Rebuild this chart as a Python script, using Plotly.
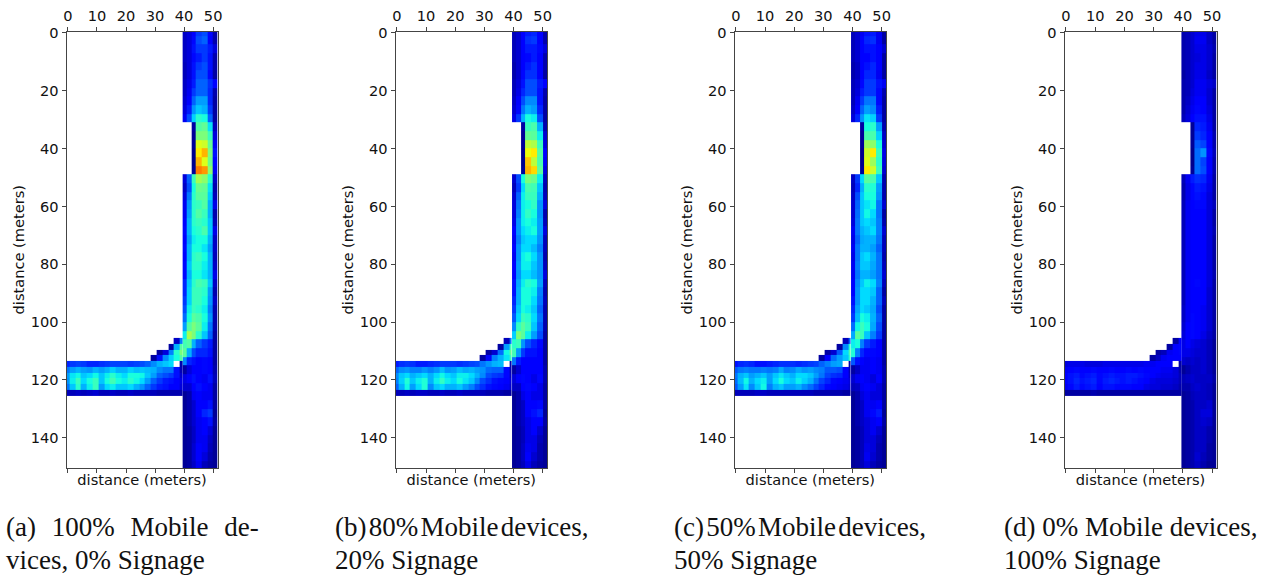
import plotly.graph_objects as go

N = None
x_edges_v = [39.5, 41, 42.5, 44, 46, 48, 50, 51.5]
y_edges_v = [-2 + 3 * k for k in range(52)]
x_edges_h = [-1.5 + 2 * k for k in range(21)] + [39.5]
y_edges_h = [105.5 + 2 * k for k in range(11)]
x_ticks = [0, 10, 20, 30, 40, 50]
y_ticks = [0, 20, 40, 60, 80, 100, 120, 140]
axis_title = "distance (meters)"

vert_a = [
[6,8,12,18,20,13,4],[6,8,13,20,22,12,4],[6,8,14,18,18,15,8],[6,8,13,15,18,14,4],
[5,8,14,18,20,14,4],[5,8,14,20,20,13,3],[6,9,15,22,22,17,12],[6,10,18,22,22,16,4],
[7,12,22,28,28,16,3],[8,15,27,32,30,18,3],[10,20,33,40,38,22,3],
[N,N,3,45,47,35,5],[N,N,2,50,50,42,8],[N,N,2,62,60,47,10],[N,N,1,66,72,50,14],[N,N,1,72,62,48,12],[N,N,2,78,75,52,10],
[8,22,42,55,52,40,6],[6,20,38,48,47,35,4],[8,24,40,46,46,33,5],[10,27,40,42,45,30,9],[10,28,40,45,42,30,4],
[11,30,40,42,40,32,5],[13,30,38,40,44,32,9],[12,28,36,38,38,30,6],[13,30,38,38,35,28,6],[12,30,40,42,38,30,5],
[13,32,40,40,36,30,6],[13,30,38,38,35,30,9],[16,32,40,44,42,32,6],[16,33,42,42,40,28,4],[18,33,42,42,38,27,6],
[20,36,42,40,36,25,4],[23,38,46,44,38,27,4],[28,45,50,46,36,24,4],[36,55,50,40,32,22,3],[43,45,30,22,18,15,3],
[46,30,20,16,16,14,3],[26,16,14,12,13,12,3],[3,8,12,12,13,12,4],[9,12,14,12,10,14,5],[7,7,12,14,12,10,3],
[2,4,10,12,10,10,3],[2,4,7,12,12,14,3],[2,4,7,12,16,18,2],[2,4,7,10,12,14,3],[2,3,6,10,12,8,2],
[2,3,6,10,10,6,2],[2,3,7,11,10,5,2],[2,3,7,12,8,4,2],[2,3,6,10,5,3,2],
]
vert_b = [
[5,7,11,15,16,11,4],[5,7,12,17,18,11,4],[5,7,12,15,15,13,8],[5,7,12,13,15,12,4],
[4,7,12,15,17,12,4],[4,7,13,17,17,11,3],[5,8,14,20,20,15,11],[5,9,16,20,20,14,4],
[6,11,20,26,26,14,3],[7,13,24,30,28,16,3],[9,18,30,38,36,20,3],
[N,N,3,42,44,30,4],[N,N,2,47,46,36,7],[N,N,2,58,56,42,8],[N,N,1,64,66,45,11],[N,N,1,70,58,44,10],[N,N,2,72,68,46,8],
[7,20,38,50,48,36,5],[5,18,34,44,43,32,4],[7,22,36,42,42,30,5],[8,24,36,38,41,27,8],[8,25,36,41,38,27,4],
[9,27,36,38,36,28,5],[11,27,34,36,38,28,8],[10,25,32,34,34,27,5],[11,27,34,34,31,25,5],[10,27,36,38,34,27,4],
[11,28,36,36,32,27,5],[11,27,34,34,31,27,8],[14,29,36,40,38,28,5],[14,30,38,38,36,25,4],[16,30,38,38,34,24,5],
[18,32,38,36,32,22,4],[21,34,42,40,34,24,4],[26,41,46,42,32,22,4],[33,50,46,36,28,20,3],[40,42,27,20,16,13,3],
[43,28,18,14,14,12,3],[24,15,12,11,12,11,3],[3,7,11,11,12,11,4],[8,11,13,11,9,13,4],[6,6,11,13,11,9,3],
[2,4,9,11,9,9,3],[2,4,6,11,11,13,3],[2,4,6,11,14,16,2],[2,4,6,9,11,12,3],[2,3,5,9,11,7,2],
[2,3,5,9,9,5,2],[2,3,6,10,9,4,2],[2,3,6,11,7,4,2],[2,3,5,9,5,3,2],
]
vert_c = [
[5,7,10,14,15,10,3],[5,7,11,16,17,10,3],[5,7,12,14,14,12,7],[5,7,11,12,14,11,3],
[4,6,12,14,16,11,3],[4,6,12,16,16,10,3],[5,7,13,18,18,14,10],[5,8,15,18,18,13,4],
[5,10,18,24,24,13,3],[6,12,22,28,26,15,3],[8,16,27,35,33,18,3],
[N,N,3,38,40,28,4],[N,N,2,44,44,33,6],[N,N,2,54,52,38,7],[N,N,1,60,66,42,9],[N,N,1,62,54,40,8],[N,N,2,66,60,42,7],
[6,18,34,46,44,32,4],[5,16,30,40,39,28,4],[6,20,32,38,38,27,4],[7,22,32,35,37,24,7],[7,23,32,37,34,24,3],
[8,24,32,34,32,25,4],[10,24,30,32,34,25,7],[9,22,29,30,30,24,5],[10,24,30,30,28,22,5],[9,24,32,34,30,24,4],
[10,25,32,32,29,24,5],[10,24,30,30,28,24,7],[12,26,32,36,34,25,5],[12,27,34,34,32,22,3],[14,27,34,34,30,22,5],
[16,29,34,32,29,20,3],[18,31,38,36,30,22,3],[23,37,42,38,29,20,3],[29,46,42,32,25,18,3],[36,38,25,18,15,12,3],
[39,25,16,13,13,11,3],[21,14,11,10,11,10,3],[3,6,10,10,11,10,4],[7,10,12,10,8,12,4],[5,6,10,12,10,8,3],
[2,4,8,10,8,8,3],[2,4,6,10,10,12,3],[2,4,6,10,13,15,2],[2,4,6,8,10,11,3],[2,3,5,8,10,7,2],
[2,3,5,8,8,5,2],[2,3,5,9,8,4,2],[2,3,5,10,7,4,2],[2,3,5,8,5,3,2],
]
vert_d = [
[4,5,7,9,9,6,3],[4,5,7,10,10,6,3],[4,5,7,9,9,7,4],[4,5,7,8,9,7,3],
[4,5,7,9,9,7,3],[3,5,7,9,9,6,3],[4,5,7,10,10,8,6],[4,5,8,10,10,7,3],
[4,6,9,11,11,7,3],[4,7,10,13,12,8,3],[5,8,11,14,14,9,3],
[N,N,2,16,15,10,3],[N,N,2,18,16,11,4],[N,N,2,21,19,12,4],[N,N,1,23,27,13,5],[N,N,1,23,19,12,4],[N,N,2,23,20,12,4],
[5,10,15,17,16,10,3],[4,9,13,15,14,9,3],[4,9,13,14,13,8,3],[5,10,12,13,13,8,5],[5,10,12,12,12,8,3],
[5,10,12,12,12,8,3],[5,10,12,12,12,8,4],[5,10,12,12,11,8,3],[5,10,12,12,11,8,3],[5,10,12,12,11,8,3],
[5,10,12,12,11,8,3],[5,10,12,12,11,8,4],[5,10,12,13,12,8,3],[5,10,12,12,11,7,3],[5,10,12,12,11,7,3],
[6,10,12,12,10,7,3],[6,10,13,12,10,7,3],[7,11,13,12,10,7,3],[8,12,13,11,9,6,3],[9,11,9,8,7,5,2],
[9,9,8,7,7,5,2],[7,6,7,6,7,5,2],[2,4,6,6,7,5,2],[5,6,7,6,6,6,3],[4,4,6,7,6,5,2],
[2,3,5,6,6,5,2],[2,3,4,6,6,7,2],[2,3,4,6,8,8,2],[2,3,4,6,7,6,2],[2,3,4,6,6,4,2],
[2,3,4,6,6,4,2],[2,3,4,6,6,3,2],[2,3,4,7,5,3,2],[2,3,4,6,4,2,2],
]

def blank(n):
    return [N] * n

horiz_a = [
blank(19) + [6, 25],
blank(18) + [3, 30, 45],
blank(16) + [3, 8, 25, 40, 50],
blank(15) + [3, 14, 26, 33, 38, 45],
[16,18,19,18,16,16,17,18,19,19,19,18,19,20,22,26,30,32,34,N,4],
[24,28,30,28,27,30,28,30,33,30,30,33,31,32,31,30,26,24,24,14,5],
[28,35,37,32,34,37,32,36,40,36,34,38,38,37,32,28,22,20,18,14,7],
[27,36,42,34,38,42,32,38,43,38,36,40,37,34,28,22,18,15,14,12,9],
[24,32,40,30,36,42,28,34,36,32,32,34,30,27,22,18,15,14,12,11,8],
[5,5,6,5,6,7,5,5,6,5,5,6,5,5,5,5,4,4,4,4,4],
]
horiz_b = [
blank(19) + [5, 24],
blank(18) + [3, 28, 42],
blank(16) + [3, 7, 23, 37, 47],
blank(15) + [3, 13, 25, 30, 35, 42],
[15,17,18,17,15,15,16,17,18,18,18,17,18,19,20,24,27,30,31,N,4],
[22,26,27,25,25,27,25,27,31,27,28,31,29,30,28,27,23,22,22,13,5],
[26,32,34,30,32,34,30,34,37,34,32,36,36,34,30,26,20,18,17,13,6],
[25,33,39,32,36,39,30,36,41,36,34,38,35,32,26,20,17,14,13,11,8],
[22,30,37,28,34,39,26,32,34,30,30,32,28,25,20,17,14,13,11,10,7],
[5,5,6,5,6,6,5,5,6,5,5,6,5,5,5,5,4,4,4,3,3],
]
horiz_c = [
blank(19) + [5, 22],
blank(18) + [3, 26, 40],
blank(16) + [3, 7, 21, 34, 44],
blank(15) + [3, 12, 23, 28, 32, 40],
[14,16,17,16,14,14,15,16,17,17,17,16,17,18,19,22,25,28,29,N,4],
[21,24,25,24,24,25,24,25,29,25,26,29,27,28,26,25,21,21,20,12,5],
[24,30,32,28,30,32,28,32,35,32,30,34,34,32,28,24,19,17,16,12,6],
[23,31,37,30,34,36,28,34,38,34,32,36,33,30,24,19,16,13,12,10,8],
[21,28,35,26,32,37,25,30,32,28,28,30,26,23,19,16,13,12,10,9,7],
[5,5,5,5,6,6,5,5,5,5,5,5,5,5,4,4,4,4,4,3,3],
]
horiz_d = [
blank(19) + [3, 11],
blank(18) + [3, 11, 13],
blank(16) + [3, 5, 10, 12, 13],
blank(15) + [3, 6, 10, 11, 12, 12],
[8,9,9,9,8,8,8,9,9,9,9,9,9,9,10,10,11,11,12,N,3],
[10,12,13,12,12,13,12,12,13,12,12,13,12,13,12,12,11,10,10,8,4],
[12,14,15,13,14,15,13,14,15,14,14,15,15,14,13,12,10,9,9,8,5],
[11,14,16,14,15,16,13,15,16,15,14,15,14,13,12,9,8,8,8,7,5],
[10,13,15,13,14,15,12,14,14,13,13,13,12,11,9,8,8,7,7,6,4],
[3,3,3,3,3,4,3,3,3,3,3,3,3,3,3,3,3,3,3,3,3],
]

captions_1 = ["(a)\u00a0\u00a0\u200a100%\u00a0\u00a0\u200aMobile\u00a0\u00a0\u200ade-",
              "(b)\u200a80%\u200aMobile\u200adevices,",
              "(c)\u200a50%\u200aMobile\u200adevices,", "(d) 0% Mobile devices,"]
captions_2 = ["vices, 0% Signage", "20% Signage", "50% Signage", "100% Signage"]

jet = [
    [0, "rgb(0,0,128)"], [0.11, "rgb(0,0,255)"], [0.125, "rgb(0,0,255)"],
    [0.34, "rgb(0,219,255)"], [0.375, "rgb(20,255,226)"], [0.64, "rgb(238,255,8)"],
    [0.66, "rgb(255,236,0)"], [0.89, "rgb(255,20,0)"], [0.91, "rgb(232,0,0)"], [1, "rgb(128,0,0)"],
]

W, H = 1267, 577
lefts = [66.5, 395.5, 734.5, 1064.5]
rights = [217.5, 547, 886, 1216.5]
caption_x = [4, 333, 672, 1002]
top_px, bottom_px = 31.5, 468
FONT = "DejaVu Sans"
LINE = "#444444"
TS = 14.6

fig = go.Figure()
layout = {}
annotations = []
for i, (v, h) in enumerate(zip([vert_a, vert_b, vert_c, vert_d], [horiz_a, horiz_b, horiz_c, horiz_d])):
    top_x = f"x{i*2+1}" if i else "x"
    bot_x = f"x{i*2+2}"
    y = f"y{i+1}" if i else "y"
    for xe, ye, z, xa in ((x_edges_v, y_edges_v, v, top_x), (x_edges_h, y_edges_h, h, bot_x)):
        fig.add_trace(go.Heatmap(x=xe, y=ye, z=z, xaxis=xa, yaxis=y, colorscale=jet, zmin=0, zmax=100,
                                 showscale=False, hoverongaps=False))
    dom = [lefts[i] / W, rights[i] / W]
    rng = [-0.5, 51.5]
    yk = y.replace("y", "yaxis")
    layout[top_x.replace("x", "xaxis")] = dict(
        domain=dom, range=rng, side="top", anchor=y, tickvals=x_ticks, ticks="outside", ticklen=4,
        tickcolor=LINE, linecolor=LINE, linewidth=1, showline=True, showgrid=False, zeroline=False,
        automargin=False, tickfont=dict(family=FONT, size=TS, color="#111"))
    layout[bot_x.replace("x", "xaxis")] = dict(
        domain=dom, range=rng, side="bottom", anchor=y, overlaying=top_x, tickvals=x_ticks, ticks="outside",
        ticklen=4, tickcolor=LINE, linecolor=LINE, linewidth=1, showline=True, showgrid=False, zeroline=False,
        automargin=False, showticklabels=False,
        title=dict(text=axis_title, standoff=2, font=dict(family=FONT, size=TS, color="#111")))
    layout[yk] = dict(
        domain=[1 - bottom_px / H, 1 - top_px / H], range=[150.5, -0.5], anchor=top_x, tickvals=y_ticks,
        ticks="outside", ticklen=4, tickcolor=LINE, linecolor=LINE, linewidth=1, showline=True, mirror=True,
        showgrid=False, zeroline=False, automargin=False, tickfont=dict(family=FONT, size=TS, color="#111"),
        title=dict(text=axis_title, standoff=2, font=dict(family=FONT, size=TS, color="#111")))
    for txt, py in ((captions_1[i], 527), (captions_2[i], 560)):
        annotations.append(dict(text=txt, xref="paper", yref="paper", x=caption_x[i] / W, y=1 - py / H,
                                xanchor="left", yanchor="middle", showarrow=False, align="left",
                                font=dict(family="Liberation Serif", size=27, color="#111")))

fig.update_layout(width=W, height=H, margin=dict(l=0, r=0, t=0, b=0), paper_bgcolor="white", plot_bgcolor="white",
                  showlegend=False, annotations=annotations, **layout)
fig.write_html("out.html", config=dict(displayModeBar=False),
               post_script="document.body.style.margin='0';document.body.style.overflow='hidden';")
